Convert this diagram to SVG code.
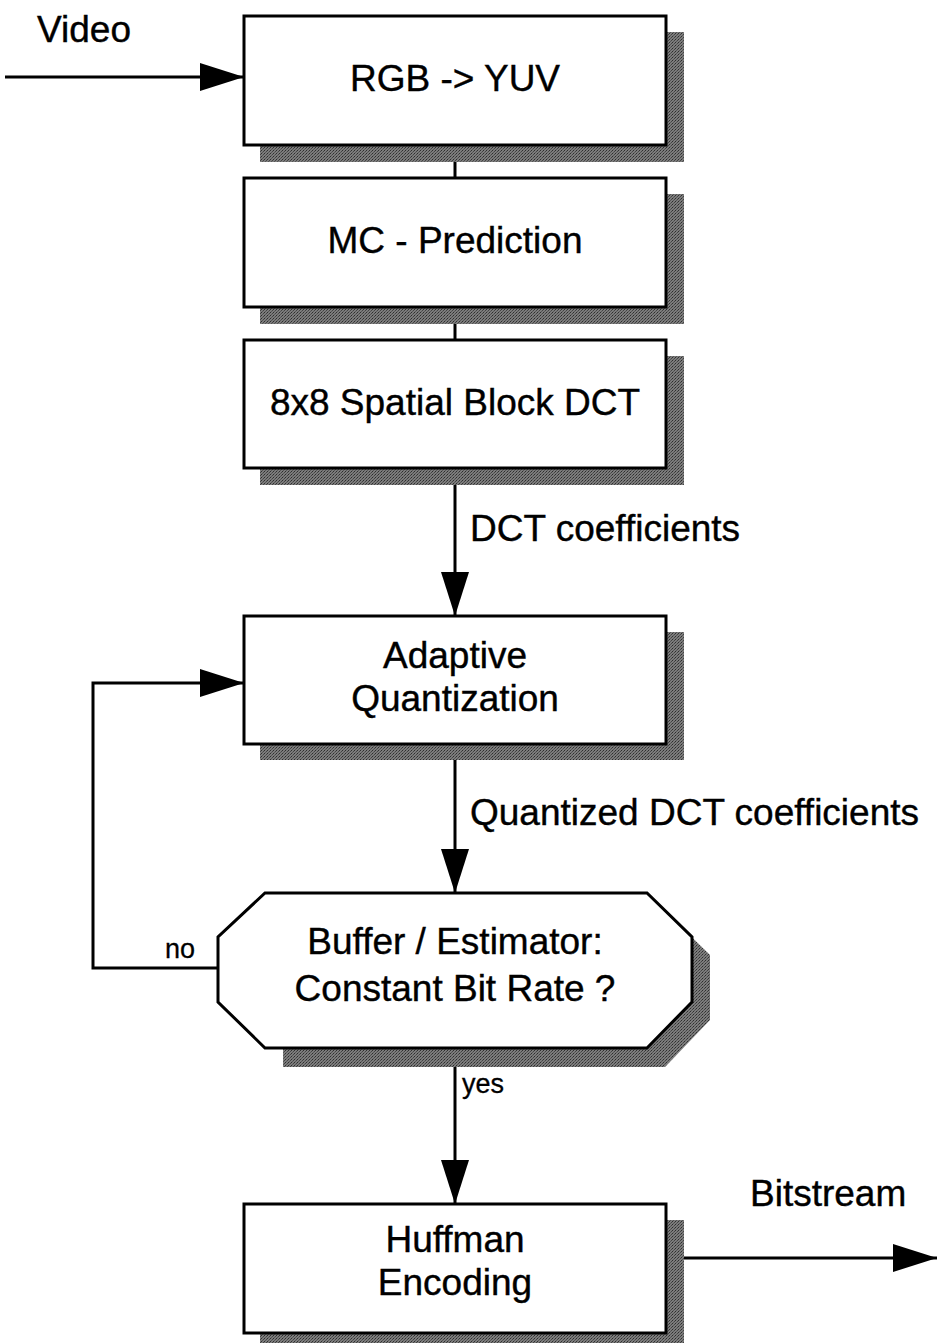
<svg xmlns="http://www.w3.org/2000/svg" width="937" height="1343" viewBox="0 0 937 1343">
  <defs>
    <pattern id="stipple" width="3" height="3" patternUnits="userSpaceOnUse">
      <rect width="3" height="3" fill="#7c7c7c"/>
      <rect width="1" height="1" fill="#2e2e2e"/>
      <rect x="2" y="1" width="1" height="1" fill="#444"/>
      <rect x="1" y="2" width="1" height="1" fill="#555"/>
    </pattern>
    <marker id="arrow" viewBox="0 0 44 28" refX="44" refY="14" markerWidth="44" markerHeight="28" markerUnits="userSpaceOnUse" orient="auto">
      <path d="M0,0 L44,14 L0,28 Z" fill="#000"/>
    </marker>
  </defs>
  <style>
    .box { fill: #fff; stroke: #000; stroke-width: 3; }
    .shadow { fill: url(#stipple); }
    .lbl { font-family: "Liberation Sans", Arial, sans-serif; font-size: 37px; fill: #000; stroke: #000; stroke-width: 0.4; }
    .mid { text-anchor: middle; }
    .small { font-family: "Liberation Sans", Arial, sans-serif; font-size: 27px; fill: #000; stroke: #000; stroke-width: 0.3; }
    .wire { fill: none; stroke: #000; stroke-width: 3; }
  </style>
  <rect width="937" height="1343" fill="#fff"/>

  <!-- connectors -->
  <g id="connectors">
    <line class="wire" x1="5" y1="77" x2="244" y2="77" marker-end="url(#arrow)"/>
    <line class="wire" x1="455" y1="145" x2="455" y2="178"/>
    <line class="wire" x1="455" y1="307" x2="455" y2="340"/>
    <line class="wire" x1="455" y1="468" x2="455" y2="616" marker-end="url(#arrow)"/>
    <line class="wire" x1="455" y1="744" x2="455" y2="893" marker-end="url(#arrow)"/>
    <polyline class="wire" points="218,968 93,968 93,683 244,683" marker-end="url(#arrow)"/>
    <line class="wire" x1="455" y1="1050" x2="455" y2="1204" marker-end="url(#arrow)"/>
    <line class="wire" x1="684" y1="1258" x2="937" y2="1258" marker-end="url(#arrow)"/>
    <text class="lbl" x="37" y="42">Video</text>
    <text class="lbl" x="470" y="541">DCT coefficients</text>
    <text class="lbl" x="470" y="825">Quantized DCT coefficients</text>
    <text class="small" x="165" y="958">no</text>
    <text class="small" x="462" y="1093">yes</text>
    <text class="lbl" x="750" y="1206">Bitstream</text>
  </g>

  <g id="rgb-yuv">
    <rect class="shadow" x="260" y="32" width="424" height="130"/>
    <rect class="box" x="244" y="16" width="422" height="129"/>
    <text class="lbl mid" x="455" y="91">RGB -&gt; YUV</text>
  </g>

  <g id="mc-prediction">
    <rect class="shadow" x="260" y="194" width="424" height="130"/>
    <rect class="box" x="244" y="178" width="422" height="129"/>
    <text class="lbl mid" x="455" y="253">MC - Prediction</text>
  </g>

  <g id="block-dct">
    <rect class="shadow" x="260" y="356" width="424" height="129"/>
    <rect class="box" x="244" y="340" width="422" height="128"/>
    <text class="lbl mid" x="455" y="415">8x8 Spatial Block DCT</text>
  </g>

  <g id="adaptive-quantization">
    <rect class="shadow" x="260" y="632" width="424" height="128"/>
    <rect class="box" x="244" y="616" width="422" height="128"/>
    <text class="lbl mid" x="455" y="668">Adaptive</text>
    <text class="lbl mid" x="455" y="711">Quantization</text>
  </g>

  <g id="buffer-estimator">
    <polygon class="shadow" points="283,911 665,911 710,955 710,1020 665,1067 283,1067"/>
    <polygon class="box" points="265,893 647,893 692,937 692,1002 647,1048 265,1048 218,1002 218,937"/>
    <text class="lbl mid" x="455" y="954">Buffer / Estimator:</text>
    <text class="lbl mid" x="455" y="1001">Constant Bit Rate ?</text>
  </g>

  <g id="huffman-encoding">
    <rect class="shadow" x="260" y="1220" width="424" height="123"/>
    <rect class="box" x="244" y="1204" width="422" height="129"/>
    <text class="lbl mid" x="455" y="1252">Huffman</text>
    <text class="lbl mid" x="455" y="1295">Encoding</text>
  </g>
</svg>
